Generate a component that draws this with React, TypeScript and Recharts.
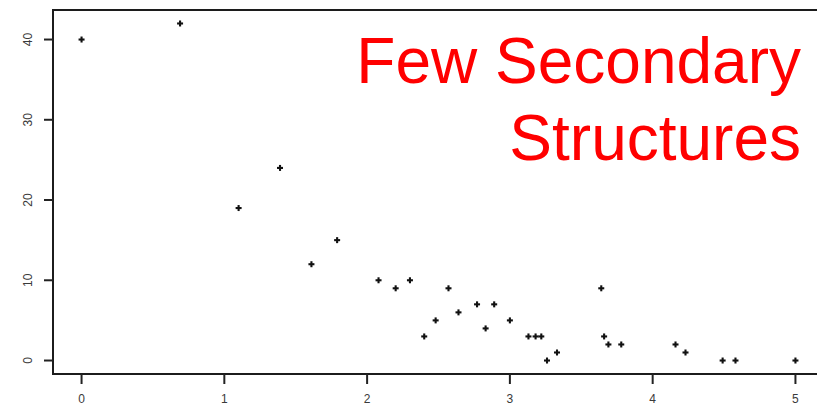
import React from "react";
import { ScatterChart, Scatter, XAxis, YAxis, ReferenceArea } from "recharts";

const xValues = [0, 0.69, 1.1, 1.39, 1.61, 1.79, 2.08, 2.2, 2.3, 2.4, 2.48, 2.57, 2.64, 2.77, 2.83, 2.89, 3.0, 3.13, 3.18, 3.22, 3.26, 3.33, 3.64, 3.66, 3.69, 3.78, 4.16, 4.23, 4.49, 4.58, 5.0];
const yValues = [40, 42, 19, 24, 12, 15, 10, 9, 10, 3, 5, 9, 6, 7, 4, 7, 5, 3, 3, 3, 0, 1, 9, 3, 2, 2, 2, 1, 0, 0, 0];
const xTicks = [0, 1, 2, 3, 4, 5];
const yTicks = [0, 10, 20, 30, 40];
const annotationLines = ["Few Secondary", "Structures"];

const points = xValues.map((x, i) => ({ x, y: yValues[i] }));

const Plus = (props: any) => {
  const { cx, cy } = props;
  if (cx == null || cy == null) return null;
  const s = 3;
  return (
    <g stroke="#111" strokeWidth={2.1}>
      <line x1={cx - s} y1={cy} x2={cx + s} y2={cy} />
      <line x1={cx} y1={cy - s} x2={cx} y2={cy + s} />
    </g>
  );
};

const YTick = (props: any) => {
  const { x, y, payload } = props;
  return (
    <text
      x={x}
      y={y}
      transform={`rotate(-90 ${x} ${y})`}
      textAnchor="middle"
      fontFamily="Liberation Sans, Arial, sans-serif"
      fontSize={12}
      fill="#3a3a3a"
    >
      {payload.value}
    </text>
  );
};

export default function App() {
  return (
    <div style={{ position: "fixed", left: 0, top: 0, width: 817, height: 406, overflow: "hidden", background: "#fff" }}>
      <ScatterChart width={824} height={406} margin={{ top: 10, right: 0, bottom: 0, left: 0 }}>
        <XAxis
          type="number"
          dataKey="x"
          domain={[-0.2, 5.2]}
          ticks={xTicks}
          allowDataOverflow
          axisLine={false}
          tickLine={{ stroke: "#222", strokeWidth: 2 }}
          tickSize={10}
          tickMargin={10}
          height={32}
          tick={{ fontFamily: "Liberation Sans, Arial, sans-serif", fontSize: 12, fill: "#3a3a3a" }}
        />
        <YAxis
          type="number"
          dataKey="y"
          domain={[-1.68, 43.68]}
          ticks={yTicks}
          allowDataOverflow
          axisLine={false}
          tickLine={{ stroke: "#222", strokeWidth: 2 }}
          tickSize={9}
          tickMargin={12}
          width={53}
          tick={<YTick />}
        />
        <ReferenceArea x1={-0.2} x2={5.2} y1={-1.68} y2={43.68} fill="none" fillOpacity={0} stroke="#1c1c1c" strokeWidth={2} />
        <Scatter data={points} shape={<Plus />} isAnimationActive={false} />
      </ScatterChart>
      <svg width={817} height={406} style={{ position: "absolute", left: 0, top: 0, pointerEvents: "none" }}>
        {annotationLines.map((t, i) => (
          <text
            key={t}
            x={801}
            y={83 + i * 76.5}
            textAnchor="end"
            fontFamily="Liberation Sans, Arial, sans-serif"
            fontSize={64}
            fill="#ff0000"
          >
            {t}
          </text>
        ))}
      </svg>
    </div>
  );
}
